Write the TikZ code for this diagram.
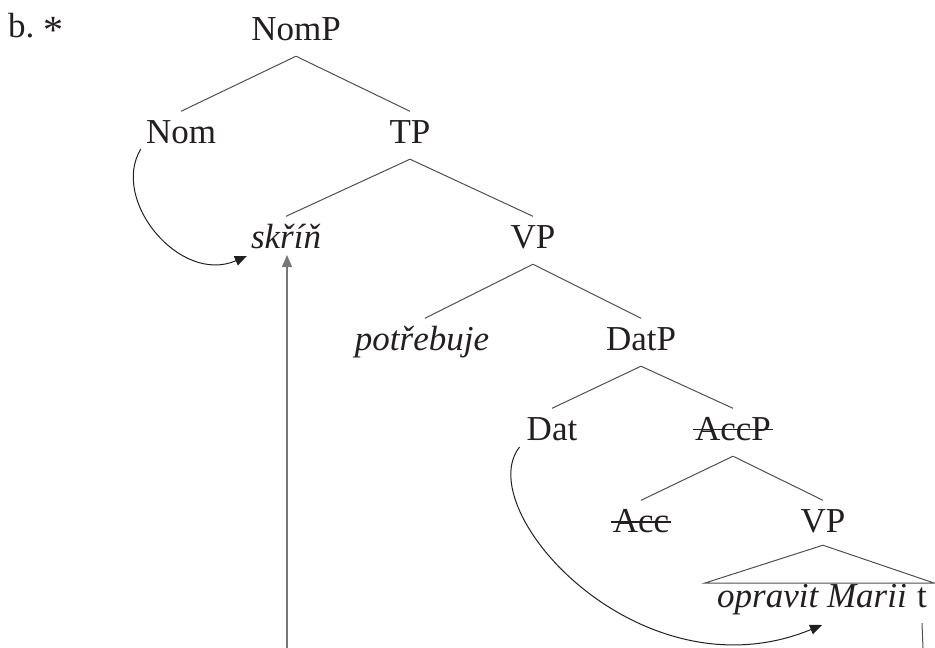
\documentclass[tikz,border=0pt]{standalone}
\usepackage{fontspec}
\setmainfont{Liberation Serif}
\usetikzlibrary{arrows.meta,calc}
\definecolor{ink}{HTML}{231F20}
\definecolor{branchc}{HTML}{505050}
\definecolor{pathc}{HTML}{777777}
\begin{document}
\begin{tikzpicture}[x=1pt,y=-1pt,
  lab/.style={font=\fontsize{35}{40}\selectfont, text=ink, text height=23.5pt,
              text depth=8pt, inner ysep=8pt, inner xsep=0pt, anchor=base},
  branch/.style={draw=branchc, line width=1pt},
  strike/.style={draw=ink, line width=1.5pt},
  move/.style={draw=ink, line width=1pt, -{Triangle[length=12pt,width=10pt]}},
]
\fill[white] (0,0) rectangle (935,648);
\useasboundingbox (0,0) rectangle (935,648);

% example label
\node[lab, anchor=base west] (ex) at (8,37)
  {b.\hspace{9pt}\raisebox{-6pt}{\fontsize{40}{40}\selectfont *}};

% tree nodes
\node[lab] (NomP)  at (296,40)  {NomP};
\node[lab] (Nom)   at (181,143) {Nom};
\node[lab] (TP)    at (410,143) {TP};
\node[lab] (skrin) at (286,248) {\textit{skříň}};
\node[lab] (VPa)   at (533,248) {VP};
\node[lab] (potr)  at (422,350) {\textit{potřebuje}};
\node[lab] (DatP)  at (641,350) {DatP};
\node[lab] (Dat)   at (552,440) {Dat};
\node[lab] (AccP)  at (733,440) {AccP};
\node[lab] (Acc)   at (641,532) {Acc};
\node[lab] (VPb)   at (823,532) {VP};
\node[lab, anchor=base east] (yield) at (907,607) {\textit{opravit Marii}};
\node[lab] (tr) at (922,607) {t};

% strike-through of the deleted heads
\draw[strike] ($(AccP.base west)+(-2,-10.5)$) -- ($(AccP.base east)+(2,-10.5)$);
\draw[strike] ($(Acc.base west)+(-2,-10)$) -- ($(Acc.base east)+(2,-10)$);

% branches
\draw[branch] (NomP.south) -- (Nom.north);
\draw[branch] (NomP.south) -- (TP.north);
\draw[branch] (TP.south) -- (skrin.north);
\draw[branch] (TP.south) -- (VPa.north);
\draw[branch] (VPa.south) -- ($(potr.north)+(3,0)$);
\draw[branch] (VPa.south) -- (DatP.north);
\draw[branch] (DatP.south) -- (Dat.north);
\draw[branch] (DatP.south) -- (AccP.north);
\draw[branch] (AccP.south) -- (Acc.north);
\draw[branch] (AccP.south) -- (VPb.north);

% triangle over the VP yield
\coordinate (triL) at (705,583);
\coordinate (triR) at (934,583);
\draw[branch, line join=miter] ($(VPb.south)+(0,-3)$) -- (triL) -- (triR) -- cycle;

% trace line below t
\coordinate (tfoot) at (923,648);
\draw[branch] (tr.south) -- (tfoot);

% movement arrows
\coordinate (sfoot) at (287,648);
\draw[move, draw=pathc, line width=1.3pt] (sfoot) -- ($(skrin.base)+(1,7)$);
\draw[move] ($(Nom.base west)+(-5,6)$) .. controls (110,200) and (180,285) .. ($(skrin.base west)+(-4,8)$);
\draw[move] ($(Dat.base west)+(-7,7)$) .. controls (470,510) and (640,700) .. ($(yield.base east)+(-85,18)$);
\end{tikzpicture}
\end{document}
